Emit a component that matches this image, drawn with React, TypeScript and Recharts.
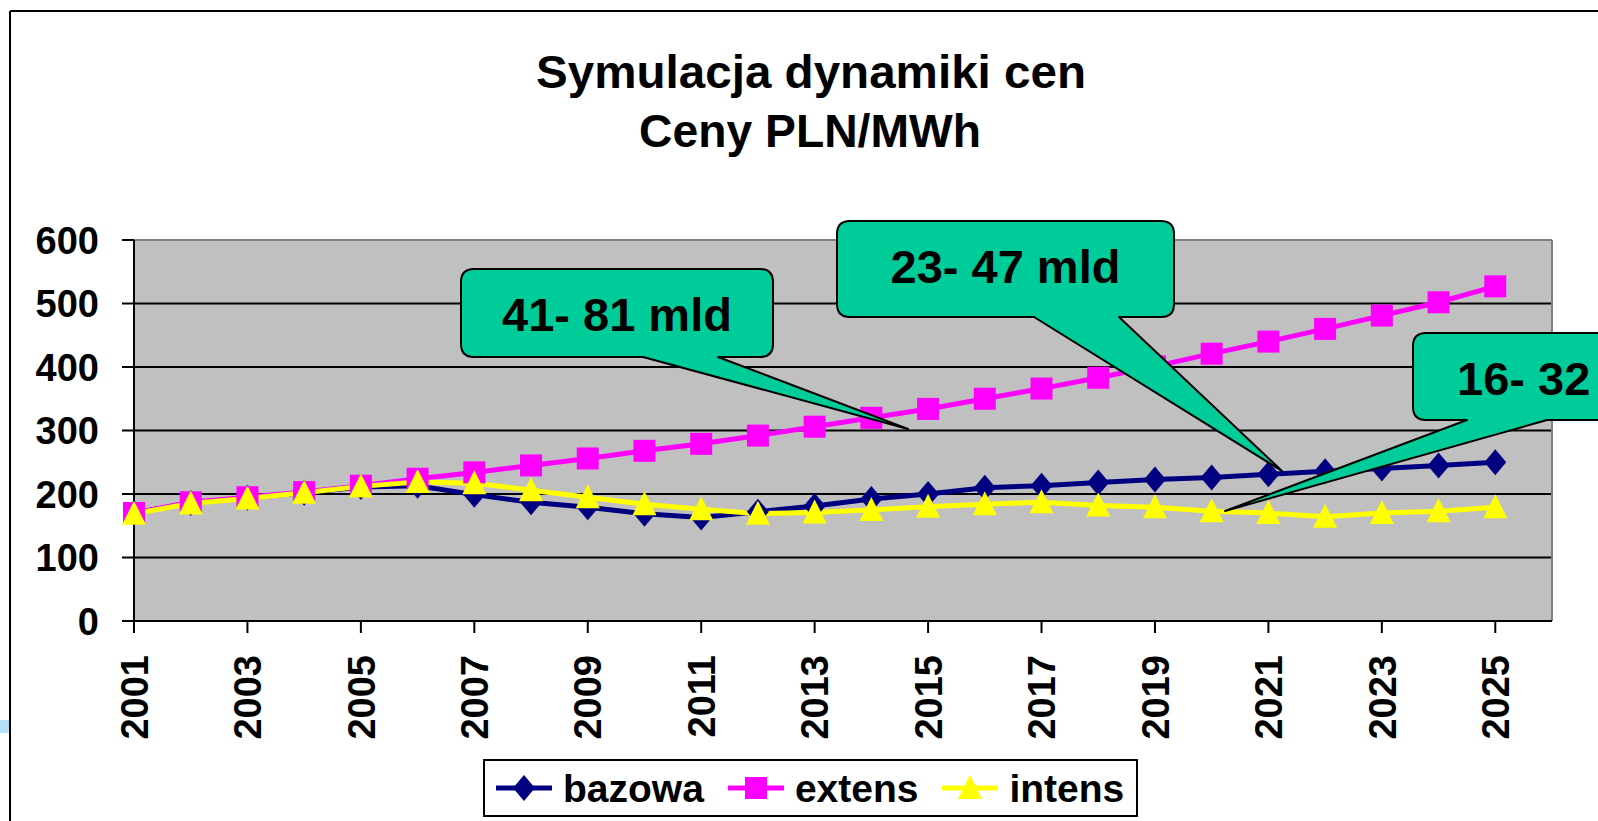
import React from "react";
import { LineChart, Line, XAxis, YAxis, CartesianGrid, Legend, ReferenceLine } from "recharts";

// Ceny PLN/MWh
const years = [2001, 2002, 2003, 2004, 2005, 2006, 2007, 2008, 2009, 2010, 2011, 2012, 2013, 2014, 2015, 2016, 2017, 2018, 2019, 2020, 2021, 2022, 2023, 2024, 2025];
const bazowa = [170, 186, 194, 202, 211, 213, 199, 187, 179, 169, 163, 172, 181, 192, 200, 210, 213, 218, 223, 226, 231, 236, 240, 245, 250];
const extens = [170, 187, 195, 203, 213, 224, 234, 245, 256, 268, 279, 292, 306, 320, 334, 350, 366, 383, 401, 421, 440, 460, 481, 502, 527];
const intens = [169, 185, 193, 202, 212, 219, 217, 206, 195, 184, 176, 169, 171, 175, 180, 184, 187, 182, 179, 173, 170, 164, 170, 173, 179];

const xTicks = [2001, 2003, 2005, 2007, 2009, 2011, 2013, 2015, 2017, 2019, 2021, 2023, 2025];
const yTicks = [0, 100, 200, 300, 400, 500, 600];
const titleLines = ["Symulacja dynamiki cen", "Ceny PLN/MWh"];
const calloutLabels = ["41- 81 mld", "23- 47 mld", "16- 32"];

const data = years.map((year, i) => ({
  year,
  bazowa: bazowa[i],
  extens: extens[i],
  intens: intens[i],
}));

const FONT = "'Liberation Sans', Arial, sans-serif";

const series = [
  { key: "bazowa", color: "#000080", shape: "diamond" },
  { key: "extens", color: "#FF00FF", shape: "square" },
  { key: "intens", color: "#FFFF00", shape: "triangle" },
];

const marker = (shape: string, cx: number, cy: number, color: string, k?: string) => {
  if (shape === "diamond")
    return <polygon key={k} points={`${cx},${cy - 13} ${cx + 11},${cy} ${cx},${cy + 13} ${cx - 11},${cy}`} fill={color} />;
  if (shape === "square")
    return <rect key={k} x={cx - 11} y={cy - 11} width={22} height={22} fill={color} />;
  return <polygon key={k} points={`${cx},${cy - 13} ${cx + 12},${cy + 11} ${cx - 12},${cy + 11}`} fill={color} />;
};

const XTick = ({ x, y, payload }: any) => (
  <text
    transform={`translate(${x},${y}) rotate(-90)`}
    textAnchor="end"
    dy="0.36em"
    fontSize={38}
    fontWeight={700}
    fontFamily={FONT}
    fill="#000"
  >
    {payload.value}
  </text>
);

const YTick = ({ x, y, payload }: any) => (
  <text x={x} y={y} textAnchor="end" dy="0.36em" fontSize={38} fontWeight={700} fontFamily={FONT} fill="#000">
    {payload.value}
  </text>
);

const LegendBox = () => (
  <div
    style={{
      boxSizing: "border-box",
      width: 655,
      height: 58,
      border: "2px solid #000",
      background: "#fff",
      display: "flex",
      alignItems: "center",
      paddingLeft: 11,
      fontFamily: FONT,
      fontWeight: 700,
      fontSize: 39,
      color: "#000",
    }}
  >
    {series.map((s, i) => (
      <div key={s.key} style={{ display: "flex", alignItems: "center", marginLeft: i === 0 ? 0 : 24 }}>
        <svg width={56} height={30} style={{ display: "block" }}>
          <line x1={0} y1={15} x2={56} y2={15} stroke={s.color} strokeWidth={5} />
          {marker(s.shape, 28, 15, s.color)}
        </svg>
        <span style={{ marginLeft: 11, lineHeight: 1 }}>{s.key}</span>
      </div>
    ))}
  </div>
);

// dymek: zaokraglony prostokat z ogonkiem od dolnej krawedzi
const calloutPath = (x: number, y: number, w: number, h: number, r: number, bl: number, br: number, tx: number, ty: number) =>
  `M${x + r},${y} H${x + w - r} Q${x + w},${y} ${x + w},${y + r} V${y + h - r} Q${x + w},${y + h} ${x + w - r},${y + h} ` +
  `H${br} L${tx},${ty} L${bl},${y + h} H${x + r} Q${x},${y + h} ${x},${y + h - r} V${y + r} Q${x},${y} ${x + r},${y} Z`;

const calloutBoxes = [
  { x: 461, y: 269, w: 312, h: 88, bl: 643, br: 718, tx: 908, ty: 429, anchor: "middle" },
  { x: 837, y: 221, w: 337, h: 96, bl: 1034, br: 1119, tx: 1282, ty: 471, anchor: "middle" },
  { x: 1413, y: 333, w: 330, h: 87, bl: 1467, br: 1547, tx: 1225, ty: 511, anchor: "start" },
];

export default function App() {
  return (
    <div style={{ position: "absolute", left: 0, top: 0, width: 1598, height: 821, background: "#fff", overflow: "hidden" }}>
      <div style={{ position: "absolute", left: 0, top: 720, width: 10, height: 13, background: "#b4e0f6" }} />
      <LineChart width={1598} height={821} data={data} margin={{ top: 240, right: 46, bottom: 100, left: 10 }}>
        <CartesianGrid vertical={false} stroke="#000" strokeWidth={2} fill="#C0C0C0" fillOpacity={1} />
        <ReferenceLine y={600} stroke="#808080" strokeWidth={2} />
        <ReferenceLine x={2026} stroke="#808080" strokeWidth={2} />
        <XAxis
          dataKey="year"
          type="number"
          domain={[2001, 2026]}
          ticks={xTicks}
          interval={0}
          height={100}
          tickSize={12}
          tickMargin={22}
          axisLine={{ stroke: "#000", strokeWidth: 2 }}
          tickLine={{ stroke: "#000", strokeWidth: 2 }}
          tick={<XTick />}
        />
        <YAxis
          domain={[0, 600]}
          ticks={yTicks}
          interval={0}
          width={124}
          tickSize={12}
          tickMargin={23}
          axisLine={{ stroke: "#000", strokeWidth: 2 }}
          tickLine={{ stroke: "#000", strokeWidth: 2 }}
          tick={<YTick />}
        />
        <Legend
          layout="horizontal"
          verticalAlign="middle"
          align="center"
          content={() => <LegendBox />}
          wrapperStyle={{ left: 483, top: 759, width: 655, height: 58 }}
        />
        {series.map((s) => (
          <Line
            key={s.key}
            dataKey={s.key}
            stroke={s.color}
            strokeWidth={5}
            isAnimationActive={false}
            dot={(p: any) => marker(s.shape, p.cx, p.cy, s.color, `${s.key}-${p.index}`)}
            activeDot={false}
          />
        ))}
      </LineChart>
      <svg width={1598} height={821} style={{ position: "absolute", left: 0, top: 0, pointerEvents: "none" }}>
        <line x1={10} y1={11} x2={1598} y2={11} stroke="#000" strokeWidth={2} />
        <line x1={10} y1={11} x2={10} y2={821} stroke="#000" strokeWidth={2} />
        <text x={536} y={88} textLength={550} lengthAdjust="spacingAndGlyphs" fontSize={47} fontWeight={700} fontFamily={FONT} fill="#000">
          {titleLines[0]}
        </text>
        <text x={639} y={147} textLength={342} lengthAdjust="spacingAndGlyphs" fontSize={47} fontWeight={700} fontFamily={FONT} fill="#000">
          {titleLines[1]}
        </text>
        {calloutBoxes.map((c, i) => (
          <g key={i}>
            <path d={calloutPath(c.x, c.y, c.w, c.h, 13, c.bl, c.br, c.tx, c.ty)} fill="#00CC99" stroke="#000" strokeWidth={2} strokeLinejoin="round" />
            <text
              x={c.anchor === "middle" ? c.x + c.w / 2 : c.x + 44}
              y={c.y + 62}
              textAnchor={c.anchor}
              fontSize={47}
              fontWeight={700}
              fontFamily={FONT}
              fill="#000"
            >
              {calloutLabels[i]}
            </text>
          </g>
        ))}
      </svg>
    </div>
  );
}
